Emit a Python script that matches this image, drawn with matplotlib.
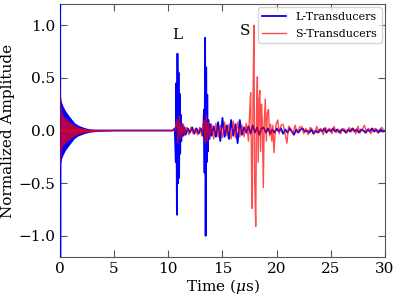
import matplotlib
matplotlib.use("Agg")
import matplotlib.pyplot as plt
import numpy as np

plt.rcParams['font.family'] = ['DejaVu Serif']
plt.rcParams['mathtext.fontset'] = 'dejavuserif'

# ---- ring-down envelopes (0-4 us) ----
ring_t = [0.0, 0.05, 0.15, 0.3, 0.5, 0.77, 1.0, 1.34, 1.7, 2.3, 2.8, 3.5, 4.2, 5.0]
blue_env_top = [0.45, 0.33, 0.27, 0.23, 0.19, 0.15, 0.12, 0.075, 0.05, 0.027, 0.015, 0.007, 0.003, 0.0]
blue_env_bot = [-0.45, -0.33, -0.27, -0.23, -0.19, -0.15, -0.12, -0.075, -0.05, -0.027, -0.015, -0.007, -0.003, 0.0]
red_env_top = [0.48, 0.3, 0.17, 0.14, 0.12, 0.09, 0.075, 0.05, 0.033, 0.018, 0.01, 0.005, 0.002, 0.0]
red_env_bot = [-0.37, -0.28, -0.17, -0.14, -0.12, -0.09, -0.075, -0.05, -0.033, -0.018, -0.01, -0.005, -0.002, 0.0]

# ---- L-transducer trace ----
blue_t = [0.03, 0.04, 0.05, 5.0, 10.4, 10.6, 10.7, 10.75, 10.8, 10.85, 10.9, 10.95, 11.0, 11.05,
          11.1, 11.15, 11.2, 11.3, 11.4, 11.5, 11.6, 11.8, 12.0, 12.2, 12.4, 12.6, 12.8, 13.0,
          13.2, 13.3, 13.35, 13.4, 13.45, 13.5, 13.55, 13.6, 13.65, 13.7, 13.8, 13.9, 14.0,
          14.2, 14.4, 14.6, 14.8, 15.0, 15.2, 15.4, 15.6, 15.8, 16.0, 16.2, 16.4, 16.6, 16.8,
          17.0, 17.2, 17.4, 17.6, 17.8, 18.0, 18.2, 18.4, 18.6, 18.8, 19.0, 19.2, 19.4, 19.6,
          19.8, 20.0, 20.2, 20.4, 20.6, 20.8, 21.0, 21.2, 21.4, 21.6, 21.8, 22.0, 22.2, 22.4,
          22.6, 22.8, 23.0, 23.2, 23.4, 23.6, 23.8, 24.0, 24.2, 24.4, 24.6, 24.8, 25.0, 25.2,
          25.4, 25.6, 25.8, 26.0, 26.2, 26.4, 26.6, 26.8, 27.0, 27.2, 27.4, 27.6, 27.8, 28.0,
          28.2, 28.4, 28.6, 28.8, 29.0, 29.2, 29.4, 29.6, 29.8, 30.0]
blue_v = [1.25, -1.25, 0.0, 0.0, 0.0, 0.02, -0.3, 0.45, -0.8, 0.73, -0.5, 0.55, -0.45, 0.35,
          -0.22, 0.15, -0.1, 0.06, -0.05, 0.03, -0.04, 0.02, -0.02, 0.03, -0.03, 0.02, -0.03, 0.02,
          -0.05, 0.2, -0.4, 0.88, -1.0, 0.6, -0.3, 0.34, -0.2, 0.1, -0.08, 0.06, -0.05,
          0.04, -0.06, 0.08, -0.1, 0.12, -0.06, 0.05, -0.08, 0.1, -0.05, 0.06, -0.12, 0.1, -0.04,
          0.03, -0.02, 0.04, -0.03, 0.05, -0.02, 0.03, -0.04, 0.02, 0.03, -0.02, 0.02, -0.03, 0.01,
          -0.02, 0.02, -0.01, 0.02, -0.03, 0.01, -0.02, 0.02, -0.01, -0.04, 0.01, -0.02, 0.01, 0.02,
          -0.01, 0.0, -0.02, 0.01, -0.03, 0.0, -0.02, 0.01, -0.01, 0.02, -0.02, 0.01, -0.01, 0.02,
          -0.01, 0.01, -0.02, 0.01, 0.0, -0.02, 0.01, -0.01, 0.02, -0.01, 0.01, -0.02, 0.01, 0.0,
          -0.02, 0.01, -0.01, 0.02, -0.01, 0.01, -0.02, 0.01, -0.01, 0.0]

# ---- S-transducer trace ----
red_t = [0.0, 5.0, 10.6, 10.8, 10.9, 11.0, 11.1, 11.2, 11.3, 11.4, 11.5, 11.7, 11.9, 12.1, 12.3,
         12.5, 12.7, 12.9, 13.1, 13.3, 13.4, 13.5, 13.6, 13.7, 13.8, 14.0, 14.2, 14.4, 14.6,
         14.8, 15.0, 15.2, 15.4, 15.6, 15.8, 16.0, 16.2, 16.4, 16.6, 16.8, 17.0, 17.2, 17.4,
         17.5, 17.6, 17.68, 17.75, 17.82, 17.9, 17.98, 18.07, 18.15, 18.22, 18.3, 18.38, 18.45,
         18.52, 18.6, 18.68, 18.77, 18.85, 18.95, 19.05, 19.15, 19.25, 19.35, 19.45, 19.55,
         19.65, 19.75, 19.85, 19.95, 20.1, 20.25, 20.4, 20.6, 20.8, 20.95, 21.1, 21.3, 21.5,
         21.7, 21.9, 22.1, 22.3, 22.5, 22.7, 22.9, 23.1, 23.3, 23.5, 23.7, 23.9, 24.1, 24.3,
         24.5, 24.7, 24.9, 25.1, 25.3, 25.5, 25.7, 25.9, 26.1, 26.3, 26.5, 26.7, 26.9, 27.1,
         27.3, 27.5, 27.7, 27.9, 28.1, 28.3, 28.5, 28.7, 28.9, 29.1, 29.3, 29.5, 29.7, 29.9, 30.0]
red_v = [0.0, 0.0, 0.0, 0.1, -0.12, 0.14, -0.08, 0.06, -0.05, 0.06, -0.04, 0.03, -0.04, 0.03, -0.03,
         0.02, -0.04, 0.03, -0.05, 0.1, -0.12, 0.15, -0.1, 0.08, -0.07, 0.06, -0.08, 0.07, -0.06,
         0.05, -0.07, 0.08, -0.05, 0.06, -0.08, 0.09, -0.07, 0.08, -0.06, 0.05, -0.06, 0.07, -0.1,
         0.15, 0.36, -0.3, -0.74, 0.3, 1.0, -0.5, -0.91, 0.2, 0.51, -0.3, 0.3, 0.38, -0.2,
         0.25, 0.1, -0.54, 0.05, 0.3, -0.1, 0.17, 0.2, -0.05, 0.06, -0.1, 0.05, -0.21, -0.05,
         0.06, 0.1, -0.03, 0.05, 0.06, -0.04, -0.12, 0.04, 0.02, -0.03,
         0.05, -0.02, 0.03, 0.04, -0.03, 0.02, -0.04, 0.03, 0.01, -0.03, 0.04, -0.02, 0.02, -0.04,
         0.03, -0.01, 0.02, -0.03, 0.04, -0.02, 0.01, -0.03, 0.02, 0.01, -0.02, 0.03, -0.01, 0.02,
         -0.03, 0.04, -0.02, 0.01, 0.05, -0.02, 0.02, -0.03, 0.01, 0.02, -0.02, 0.01, 0.03, 0.0, 0.0]

x_ticks = [0, 5, 10, 15, 20, 25, 30]
y_ticks = [-1.0, -0.5, 0.0, 0.5, 1.0]

fig = plt.figure(figsize=(3.99, 2.96), dpi=100)
ax = fig.add_axes([0.150, 0.132, 0.815, 0.854])

ax.fill_between(ring_t, blue_env_bot, blue_env_top, color='blue', lw=0)
ax.plot(blue_t, blue_v, color='blue', lw=1.3, label='L-Transducers', zorder=3)
ax.fill_between(ring_t, red_env_bot, red_env_top, color='red', alpha=0.7, lw=0, zorder=4)
ax.plot(red_t, red_v, color='red', lw=1.0, alpha=0.7, label='S-Transducers', zorder=4)

ax.text(10.8, 0.84, 'L', fontsize=11, ha='center', va='bottom')
ax.text(17.1, 0.88, 'S', fontsize=11, ha='center', va='bottom')

ax.set_xlim(0, 30)
ax.set_ylim(-1.2, 1.2)
ax.set_xticks(x_ticks)
ax.set_yticks(y_ticks)
ax.tick_params(direction='in', top=True, right=True, length=5, width=0.8,
               color='#555555', labelsize=11)
for s in ax.spines.values():
    s.set_color('#555555')
ax.set_xlabel(r'Time ($\mu$s)', fontsize=11, labelpad=1)
ax.set_ylabel('Normalized Amplitude', fontsize=11, labelpad=2)
ax.legend(loc='upper right', fontsize=8, handlelength=2.2, borderaxespad=0.3,
          labelspacing=0.6)

fig.savefig('out.png', dpi=100)
